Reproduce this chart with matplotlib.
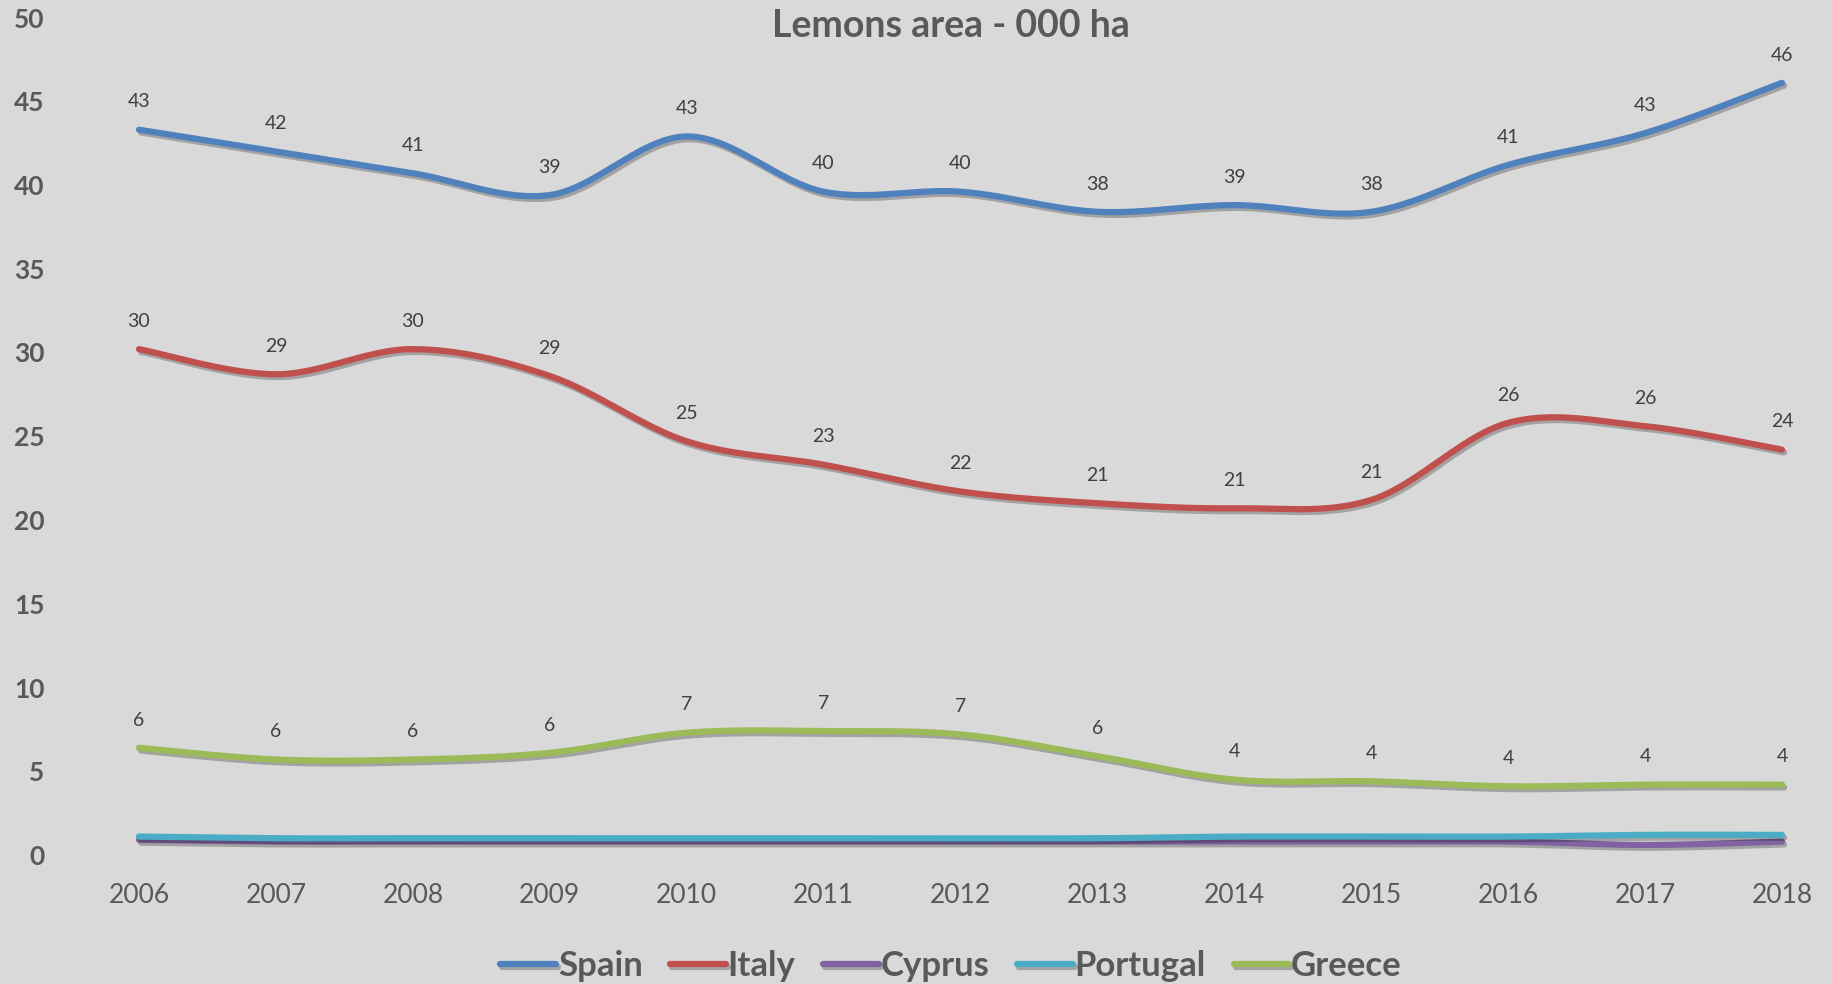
import numpy as np
import matplotlib.pyplot as plt
import matplotlib.patheffects as pe

# --- Data (000 ha) ---
years = [2006, 2007, 2008, 2009, 2010, 2011, 2012, 2013, 2014, 2015, 2016, 2017, 2018]

spain = [43.3, 42.0, 40.7, 39.4, 42.9, 39.6, 39.6, 38.4, 38.8, 38.4, 41.2, 43.1, 46.1]
italy = [30.2, 28.7, 30.2, 28.6, 24.7, 23.3, 21.7, 21.0, 20.7, 21.2, 25.8, 25.6, 24.2]
cyprus = [0.9, 0.8, 0.8, 0.8, 0.8, 0.8, 0.8, 0.8, 0.8, 0.8, 0.8, 0.6, 0.8]
portugal = [1.1, 1.0, 1.0, 1.0, 1.0, 1.0, 1.0, 1.0, 1.1, 1.1, 1.1, 1.2, 1.2]
greece = [6.4, 5.7, 5.7, 6.1, 7.3, 7.4, 7.2, 5.9, 4.5, 4.4, 4.1, 4.2, 4.2]

series_names = ['Spain', 'Italy', 'Cyprus', 'Portugal', 'Greece']
series_values = [spain, italy, cyprus, portugal, greece]
series_colors = ['#4F81BD', '#C0504D', '#8064A2', '#4BACC6', '#9BBB59']
labelled = ['Spain', 'Italy', 'Greece']


def smooth(x, y, n=30):
    """Excel-like smoothed line: cubic Bezier segments through every point."""
    x = np.asarray(x, float)
    y = np.asarray(y, float)
    px = np.concatenate([[x[0]], x, [x[-1]]])
    py = np.concatenate([[y[0]], y, [y[-1]]])
    t = np.linspace(0, 1, n)[:, None]
    xs, ys = [], []
    for i in range(1, len(px) - 2):
        p0 = np.array([px[i], py[i]])
        p3 = np.array([px[i + 1], py[i + 1]])
        c1 = p0 + (p3 - np.array([px[i - 1], py[i - 1]])) / 6
        c2 = p3 - (np.array([px[i + 2], py[i + 2]]) - p0) / 6
        pts = ((1 - t) ** 3) * p0 + 3 * ((1 - t) ** 2) * t * c1 + 3 * (1 - t) * t ** 2 * c2 + t ** 3 * p3
        xs.append(pts[:, 0])
        ys.append(pts[:, 1])
    return np.concatenate(xs), np.concatenate(ys)


plt.rcParams['font.family'] = ['Lato', 'DejaVu Sans']

fig = plt.figure(figsize=(18.33, 9.84), dpi=100, facecolor='#D9D9D9')
ax = fig.add_axes([139 / 1833, 1 - 855 / 984, (1782 - 139) / 1833, (855 - 17.5) / 984])
ax.set_facecolor('#D9D9D9')

shadow = [pe.SimpleLineShadow(offset=(1.5, -2), alpha=0.25, shadow_color='black'), pe.Normal()]

for name, vals, col in zip(series_names, series_values, series_colors):
    sx, sy = smooth(years, vals)
    ax.plot(sx, sy, color=col, lw=4.5, solid_capstyle='round', label=name,
            clip_on=False, path_effects=shadow)
    if name in labelled:
        for yr, v in zip(years, vals):
            ax.annotate(f'{v:.0f}', (yr, v), xytext=(0, 20), textcoords='offset points',
                        ha='center', va='center', fontsize=14, color='#404040')

ax.set_xlim(2006, 2018)
ax.set_ylim(0, 50)
ax.set_xticks(years)
ax.set_yticks(range(0, 51, 5))
ax.tick_params(axis='both', length=0)
ax.tick_params(axis='x', labelsize=19, labelcolor='#595959', pad=20)
ax.tick_params(axis='y', labelsize=19, labelcolor='#595959', pad=68)
for lbl in ax.get_yticklabels():
    lbl.set_fontweight('bold')
for s in ax.spines.values():
    s.set_visible(False)

fig.text(951 / 1833, 1 - 26 / 984, 'Lemons area - 000 ha', ha='center', va='center',
         fontsize=27, fontweight='bold', color='#595959')

fig.legend(loc='center', bbox_to_anchor=(951 / 1833, 1 - 966 / 984), ncol=5, frameon=False,
           handlelength=1.6, handletextpad=0.05, columnspacing=0.8,
           prop={'size': 25, 'weight': 'bold'}, labelcolor='#595959')

fig.savefig('out.png', dpi=100, facecolor=fig.get_facecolor())
